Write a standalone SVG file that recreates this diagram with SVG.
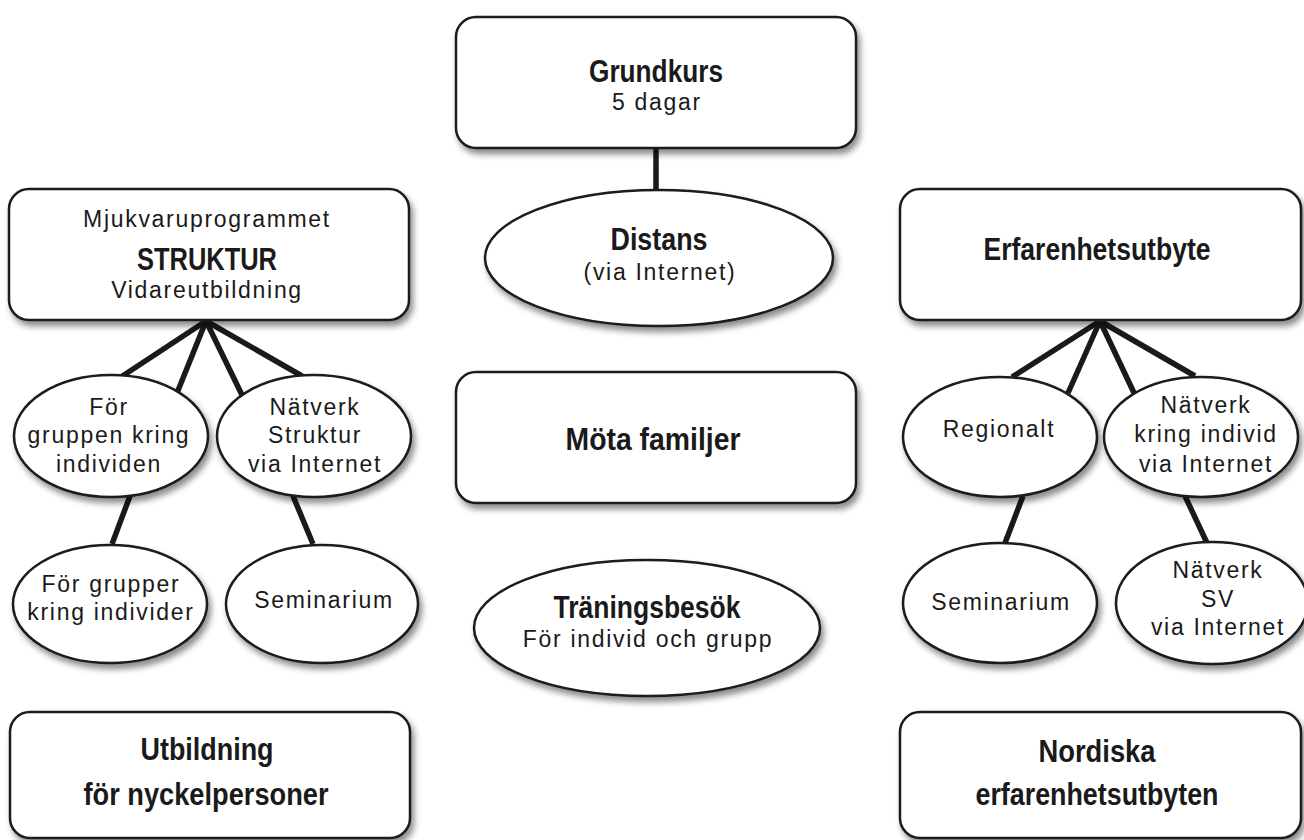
<svg xmlns="http://www.w3.org/2000/svg" width="1304" height="840" viewBox="0 0 1304 840">
<defs>
<filter id="sh" x="-10%" y="-10%" width="125%" height="135%">
<feDropShadow dx="3" dy="5" stdDeviation="3" flood-color="#000" flood-opacity="0.45"/>
</filter>
<style>
.box{fill:#fff;stroke:#1a1a1a;stroke-width:2.5;filter:url(#sh)}
.con line{stroke:#1a1a1a;stroke-width:5.5;stroke-linecap:butt}
.b{font-family:"Liberation Sans",Arial,sans-serif;font-weight:bold;font-size:32px;fill:#1a1a1a;text-anchor:middle}
.r{font-family:"Liberation Sans",Arial,sans-serif;font-size:23px;letter-spacing:1.7px;fill:#1a1a1a;text-anchor:middle}
</style>
</defs>
<rect width="1304" height="840" fill="#fff"/>
<g id="connectors" class="con">
<line x1="656" y1="148" x2="656" y2="191"/>
<line x1="206" y1="321" x2="121" y2="377"/>
<line x1="206" y1="321" x2="177" y2="393"/>
<line x1="206" y1="321" x2="242" y2="395"/>
<line x1="206" y1="321" x2="302" y2="376"/>
<line x1="130" y1="496" x2="112" y2="544"/>
<line x1="293" y1="496" x2="313" y2="544"/>
<line x1="1100" y1="321" x2="1012" y2="377"/>
<line x1="1100" y1="321" x2="1068" y2="393"/>
<line x1="1100" y1="321" x2="1135" y2="395"/>
<line x1="1100" y1="321" x2="1195" y2="376"/>
<line x1="1023" y1="496" x2="1005" y2="543"/>
<line x1="1185" y1="496" x2="1207" y2="543"/>
</g>
<g id="grundkurs">
<rect class="box" x="456" y="17" width="400" height="131" rx="20"/>
<text class="b" x="656" y="82" textLength="134" lengthAdjust="spacingAndGlyphs">Grundkurs</text>
<text class="r" x="657" y="110">5 dagar</text>
</g>
<g id="distans">
<ellipse class="box" cx="659" cy="258" rx="174" ry="68"/>
<text class="b" x="659" y="250" textLength="97" lengthAdjust="spacingAndGlyphs">Distans</text>
<text class="r" x="660" y="280">(via Internet)</text>
</g>
<g id="struktur">
<rect class="box" x="9" y="189" width="400" height="131" rx="20"/>
<text class="r" x="207" y="227">Mjukvaruprogrammet</text>
<text class="b" x="207" y="270" textLength="140" lengthAdjust="spacingAndGlyphs">STRUKTUR</text>
<text class="r" x="207" y="298">Vidareutbildning</text>
</g>
<g id="gruppen">
<ellipse class="box" cx="111" cy="436" rx="97" ry="61"/>
<text class="r" x="109" y="415">För</text>
<text class="r" x="109" y="443">gruppen kring</text>
<text class="r" x="109" y="472">individen</text>
</g>
<g id="natverk-struktur">
<ellipse class="box" cx="314" cy="436" rx="97" ry="61"/>
<text class="r" x="315" y="415">Nätverk</text>
<text class="r" x="315" y="443">Struktur</text>
<text class="r" x="315" y="472">via Internet</text>
</g>
<g id="grupper">
<ellipse class="box" cx="110" cy="604" rx="97" ry="59"/>
<text class="r" x="111" y="592">För grupper</text>
<text class="r" x="111" y="620">kring individer</text>
</g>
<g id="seminarium-l">
<ellipse class="box" cx="322" cy="604" rx="96" ry="59"/>
<text class="r" x="324" y="608">Seminarium</text>
</g>
<g id="utbildning">
<rect class="box" x="10" y="712" width="400" height="126" rx="20"/>
<text class="b" x="207" y="760" textLength="133" lengthAdjust="spacingAndGlyphs">Utbildning</text>
<text class="b" x="206" y="805" textLength="245" lengthAdjust="spacingAndGlyphs">för nyckelpersoner</text>
</g>
<g id="mota">
<rect class="box" x="456" y="372" width="400" height="131" rx="20"/>
<text class="b" x="653" y="450" textLength="175" lengthAdjust="spacingAndGlyphs">Möta familjer</text>
</g>
<g id="traningsbesok">
<ellipse class="box" cx="647" cy="628" rx="173" ry="68"/>
<text class="b" x="647" y="618" textLength="187" lengthAdjust="spacingAndGlyphs">Träningsbesök</text>
<text class="r" x="648" y="647">För individ och grupp</text>
</g>
<g id="erfarenhetsutbyte">
<rect class="box" x="900" y="189" width="401" height="131" rx="20"/>
<text class="b" x="1097" y="260" textLength="227" lengthAdjust="spacingAndGlyphs">Erfarenhetsutbyte</text>
</g>
<g id="regionalt">
<ellipse class="box" cx="1000" cy="437" rx="97" ry="60"/>
<text class="r" x="999" y="437">Regionalt</text>
</g>
<g id="natverk-individ">
<ellipse class="box" cx="1201" cy="437" rx="97" ry="60"/>
<text class="r" x="1206" y="413">Nätverk</text>
<text class="r" x="1206" y="442">kring individ</text>
<text class="r" x="1206" y="472">via Internet</text>
</g>
<g id="seminarium-r">
<ellipse class="box" cx="1000" cy="603" rx="97" ry="60"/>
<text class="r" x="1001" y="610">Seminarium</text>
</g>
<g id="natverk-sv">
<ellipse class="box" cx="1212" cy="603" rx="96" ry="61"/>
<text class="r" x="1218" y="578">Nätverk</text>
<text class="r" x="1218" y="607">SV</text>
<text class="r" x="1218" y="635">via Internet</text>
</g>
<g id="nordiska">
<rect class="box" x="900" y="712" width="401" height="126" rx="20"/>
<text class="b" x="1097" y="762" textLength="117" lengthAdjust="spacingAndGlyphs">Nordiska</text>
<text class="b" x="1097" y="805" textLength="243" lengthAdjust="spacingAndGlyphs">erfarenhetsutbyten</text>
</g>
</svg>
